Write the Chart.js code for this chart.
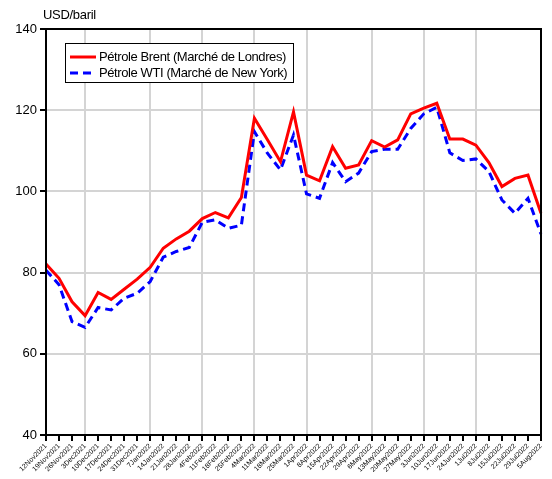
<!DOCTYPE html>
<html>
<head>
<meta charset="utf-8">
<script src="https://cdn.jsdelivr.net/npm/chart.js@4/dist/chart.umd.min.js"></script>
<style>
  html, body { margin: 0; padding: 0; background: #fff; }
  #wrap { width: 552px; height: 479px; position: relative; }
</style>
</head>
<body>
<div id="wrap"><canvas id="oil-chart"></canvas></div>
<script>
//Weekly dates
const weeks = [
  "12Nov2021", "19Nov2021", "26Nov2021", "3Dec2021", "10Dec2021", "17Dec2021",
  "24Dec2021", "31Dec2021", "7Jan2022", "14Jan2022", "21Jan2022", "28Jan2022",
  "4Feb2022", "11Feb2022", "18Feb2022", "25Feb2022", "4Mar2022", "11Mar2022",
  "18Mar2022", "25Mar2022", "1Apr2022", "8Apr2022", "15Apr2022", "22Apr2022",
  "29Apr2022", "6May2022", "13May2022", "20May2022", "27May2022", "3Jun2022",
  "10Jun2022", "17Jun2022", "24Jun2022", "1Jul2022", "8Jul2022", "15Jul2022",
  "22Jul2022", "29Jul2022", "5Aug2022",
];
//Brent (London)
const brent = [
  82.1, 78.6, 72.8, 69.4, 75.1, 73.4, 75.9, 78.4, 81.3, 86.0, 88.3, 90.2,
  93.3, 94.8, 93.5, 98.5, 118.0, 112.7, 107.3, 119.6, 104.0, 102.6, 111.0, 105.7,
  106.5, 112.5, 110.9, 112.7, 119.1, 120.5, 121.7, 112.9, 112.9, 111.4, 107.1, 101.2,
  103.2, 104.0, 94.6,
];
//WTI (New York)
const wti = [
  80.6, 77.0, 67.9, 66.5, 71.4, 70.8, 73.7, 74.9, 77.8, 83.8, 85.2, 86.2,
  92.4, 93.0, 90.9, 91.7, 114.7, 109.4, 105.3, 113.9, 99.4, 98.3, 107.1, 102.4,
  104.5, 109.8, 110.4, 110.4, 115.5, 119.1, 120.7, 109.5, 107.6, 108.0, 104.9, 97.9,
  94.6, 98.3, 89.5,
];
const yTicks = [40, 60, 80, 100, 120, 140];
//First week of each month gets a vertical grid line
const monthStarts = ["3Dec2021", "7Jan2022", "4Feb2022", "4Mar2022", "1Apr2022", "6May2022", "3Jun2022", "1Jul2022"];

const fontName = "'Liberation Sans', Arial, sans-serif";

//Frame, axis title and legend box
const decorations = {
  id: "decorations",
  afterDraw(chart) {
    const ctx = chart.ctx;
    const a = chart.chartArea;
    ctx.save();
    ctx.strokeStyle = "#000";
    ctx.lineWidth = 2;
    ctx.strokeRect(a.left, a.top, a.right - a.left, a.bottom - a.top);

    ctx.fillStyle = "#000";
    ctx.font = "13px " + fontName;
    ctx.textBaseline = "middle";
    ctx.textAlign = "left";
    ctx.letterSpacing = "-0.3px";
    ctx.fillText("USD/baril", 43, 15);

    //Legend
    ctx.fillStyle = "#fff";
    ctx.fillRect(66, 44, 228, 39);
    ctx.lineWidth = 1;
    ctx.strokeStyle = "#000";
    ctx.strokeRect(65.5, 43.5, 228, 39);
    ctx.lineWidth = 3;
    ctx.strokeStyle = "#ff0000";
    ctx.beginPath();
    ctx.moveTo(70, 57);
    ctx.lineTo(96, 57);
    ctx.stroke();
    ctx.strokeStyle = "#0000ff";
    ctx.setLineDash([8, 5]);
    ctx.beginPath();
    ctx.moveTo(70, 73);
    ctx.lineTo(96, 73);
    ctx.stroke();
    ctx.setLineDash([]);
    ctx.fillStyle = "#000";
    ctx.font = "13px " + fontName;
    ctx.letterSpacing = "-0.4px";
    ctx.fillText("Pétrole Brent (Marché de Londres)", 99, 57);
    ctx.fillText("Pétrole WTI (Marché de New York)", 99, 73);
    ctx.restore();
  },
};

new Chart(document.getElementById("oil-chart"), {
  type: "line",
  data: {
    labels: weeks,
    datasets: [
      {
        label: "Pétrole Brent (Marché de Londres)",
        data: brent,
        borderColor: "#ff0000",
        borderWidth: 3,
        pointRadius: 0,
        tension: 0,
      },
      {
        label: "Pétrole WTI (Marché de New York)",
        data: wti,
        borderColor: "#0000ff",
        borderWidth: 3,
        borderDash: [8, 5],
        pointRadius: 0,
        tension: 0,
      },
    ],
  },
  options: {
    responsive: true,
    maintainAspectRatio: false,
    animation: false,
    layout: { padding: { top: 29, right: 11, left: 0, bottom: 0 } },
    plugins: {
      legend: { display: false },
      tooltip: { enabled: false },
    },
    scales: {
      x: {
        offset: false,
        grid: {
          color: (c) => (c.tick && monthStarts.includes(weeks[c.index]) ? "#d4d4d4" : "rgba(0,0,0,0)"),
          lineWidth: 2,
          tickColor: "#000",
          tickLength: 6,
          drawTicks: true,
        },
        border: { display: false },
        ticks: {
          autoSkip: false,
          maxRotation: 45,
          minRotation: 45,
          padding: 1,
          color: "#000",
          font: { size: 7, family: fontName },
        },
        afterFit(scale) {
          scale.height = 44;
        },
      },
      y: {
        min: 40,
        max: 140,
        afterBuildTicks(scale) {
          scale.ticks = yTicks.map((v) => ({ value: v }));
        },
        grid: {
          color: "#d4d4d4",
          lineWidth: 2,
          tickColor: "#000",
          tickLength: 6,
        },
        border: { display: false },
        ticks: {
          padding: 3,
          color: "#000",
          font: { size: 13, family: fontName },
        },
        afterFit(scale) {
          scale.width = 46;
        },
      },
    },
  },
  plugins: [decorations],
});
</script>
</body>
</html>
